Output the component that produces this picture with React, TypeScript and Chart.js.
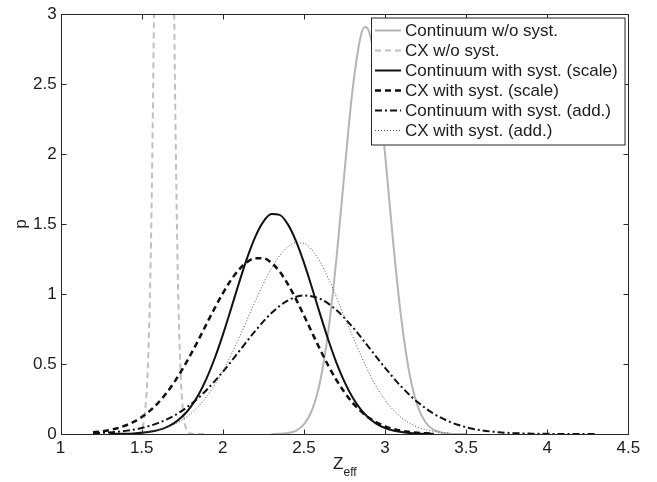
import React, { useEffect, useRef } from 'react';
import { Chart, registerables } from 'chart.js';

Chart.register(...registerables);

// ---- data ----
const seriesLabels = [
  'Continuum w/o syst.',
  'CX w/o syst.',
  'Continuum with syst. (scale)',
  'CX with syst. (scale)',
  'Continuum with syst. (add.)',
  'CX with syst. (add.)',
];

const xTickValues = [1, 1.5, 2, 2.5, 3, 3.5, 4, 4.5];
const yTickValues = [0, 0.5, 1, 1.5, 2, 2.5, 3];

const contNoSystX = [2.30, 2.35, 2.40, 2.45, 2.50, 2.55, 2.60, 2.65, 2.70, 2.75, 2.80, 2.85, 2.875, 2.90, 2.95, 3.00, 3.05, 3.10, 3.15, 3.20, 3.25, 3.30, 3.35, 3.40, 3.45, 3.50];
const contNoSystY = [0.0005, 0.002, 0.007, 0.023, 0.068, 0.170, 0.377, 0.733, 1.250, 1.873, 2.462, 2.843, 2.909, 2.880, 2.561, 2.000, 1.370, 0.824, 0.435, 0.202, 0.082, 0.029, 0.009, 0.0025, 0.0006, 0.0001];

const cxNoSystX = [1.40, 1.44, 1.48, 1.50, 1.52, 1.54, 1.56, 1.58, 1.60, 1.62, 1.64, 1.66, 1.68, 1.70, 1.72, 1.74, 1.76, 1.78, 1.80, 1.84, 1.90];
const cxNoSystY = [0, 0.0001, 0.006, 0.033, 0.151, 0.546, 1.556, 3.49, 6.18, 8.63, 9.49, 8.23, 5.62, 3.03, 1.286, 0.430, 0.113, 0.024, 0.004, 0.0001, 0];

const contScaleX = [1.30, 1.35, 1.40, 1.45, 1.50, 1.55, 1.60, 1.65, 1.70, 1.75, 1.80, 1.85, 1.90, 1.95, 2.00, 2.05, 2.10, 2.15, 2.20, 2.25, 2.30, 2.35, 2.40, 2.45, 2.50, 2.55, 2.60, 2.65, 2.70, 2.75, 2.80, 2.85, 2.90, 2.95, 3.00, 3.05, 3.10, 3.15, 3.20, 3.25, 3.30];
const contScaleY = [0.0005, 0.0010, 0.0021, 0.0043, 0.0083, 0.0154, 0.0275, 0.0473, 0.0783, 0.1246, 0.1908, 0.2807, 0.3976, 0.5412, 0.7087, 0.8924, 1.0806, 1.2584, 1.4092, 1.5179, 1.5721, 1.5660, 1.5000, 1.3819, 1.2244, 1.0432, 0.8549, 0.6737, 0.5105, 0.3720, 0.2607, 0.1757, 0.1139, 0.0710, 0.0426, 0.0245, 0.0136, 0.0073, 0.0037, 0.0018, 0.0009];

const cxScaleX = [1.20, 1.25, 1.30, 1.35, 1.40, 1.45, 1.50, 1.55, 1.60, 1.65, 1.70, 1.75, 1.80, 1.85, 1.90, 1.95, 2.00, 2.05, 2.10, 2.15, 2.20, 2.25, 2.30, 2.35, 2.40, 2.45, 2.50, 2.55, 2.60, 2.65, 2.70, 2.75, 2.80, 2.85, 2.90, 2.95, 3.00, 3.05, 3.10, 3.15, 3.20, 3.25, 3.30];
const cxScaleY = [0.0117, 0.0182, 0.0279, 0.0416, 0.0608, 0.0867, 0.1211, 0.1655, 0.2211, 0.2889, 0.3690, 0.4612, 0.5635, 0.6735, 0.7871, 0.8996, 1.0057, 1.0995, 1.1755, 1.2288, 1.2565, 1.256, 1.223, 1.161, 1.073, 0.966, 0.847, 0.724, 0.603, 0.489, 0.386, 0.298, 0.223, 0.163, 0.116, 0.081, 0.055, 0.036, 0.023, 0.015, 0.009, 0.005, 0.003];

const contAddX = [1.2, 1.3, 1.4, 1.5, 1.6, 1.7, 1.8, 1.9, 2.0, 2.1, 2.2, 2.3, 2.4, 2.5, 2.6, 2.7, 2.8, 2.9, 3.0, 3.1, 3.2, 3.3, 3.4, 3.5, 3.6, 3.7, 3.8, 3.9, 4.0, 4.1, 4.2, 4.3];
const contAddY = [0.0050, 0.0109, 0.0223, 0.0428, 0.0774, 0.1314, 0.2098, 0.3148, 0.4445, 0.5900, 0.7365, 0.8643, 0.9538, 0.9897, 0.9656, 0.8858, 0.7642, 0.6198, 0.4727, 0.3390, 0.2286, 0.1449, 0.0864, 0.0484, 0.0255, 0.0127, 0.0059, 0.0026, 0.0011, 0.0004, 0.0001, 0.0000];

const cxAddX = [1.50, 1.55, 1.60, 1.65, 1.70, 1.75, 1.80, 1.85, 1.90, 1.95, 2.00, 2.05, 2.10, 2.15, 2.20, 2.25, 2.30, 2.35, 2.40, 2.45, 2.50, 2.55, 2.60, 2.65, 2.70, 2.75, 2.80, 2.85, 2.90, 2.95, 3.00, 3.05, 3.10, 3.15, 3.20, 3.25, 3.30, 3.35, 3.40];
const cxAddY = [0.012, 0.019, 0.030, 0.046, 0.069, 0.100, 0.143, 0.198, 0.267, 0.351, 0.450, 0.563, 0.687, 0.818, 0.949, 1.074, 1.184, 1.274, 1.337, 1.367, 1.362, 1.315, 1.230, 1.114, 0.980, 0.835, 0.700, 0.565, 0.440, 0.330, 0.243, 0.172, 0.118, 0.078, 0.050, 0.031, 0.019, 0.011, 0.006];

// ---- styling ----
const FONT_FAMILY = "'Liberation Sans', Arial, Helvetica, sans-serif";
const TEXT_COLOR = '#1c1c1c';
const AXIS_COLOR = '#262626';

const toPoints = (xs: number[], ys: number[]) => xs.map((x, i) => ({ x, y: ys[i] }));

const seriesStyles = [
  { color: '#b5b5b5', width: 2, dash: [] as number[] },
  { color: '#c0c0c0', width: 2, dash: [6, 4] },
  { color: '#111111', width: 2, dash: [] as number[] },
  { color: '#111111', width: 2.5, dash: [6, 4] },
  { color: '#111111', width: 2, dash: [7, 3, 2, 3] },
  { color: '#555555', width: 1, dash: [1, 2] },
];

const seriesData = [
  toPoints(contNoSystX, contNoSystY),
  toPoints(cxNoSystX, cxNoSystY),
  toPoints(contScaleX, contScaleY),
  toPoints(cxScaleX, cxScaleY),
  toPoints(contAddX, contAddY),
  toPoints(cxAddX, cxAddY),
];

const framePlugin = {
  id: 'matlabFrame',
  afterDatasetsDraw(chart: any) {
    const { ctx, chartArea: a, scales } = chart;
    const xs = scales.x;
    const ys = scales.y;
    const L = Math.round(a.left) + 0.5;
    const R = Math.round(a.right) + 0.5;
    const T = Math.round(a.top) + 0.5;
    const B = Math.round(a.bottom) + 0.5;
    ctx.save();
    ctx.setLineDash([]);
    ctx.strokeStyle = AXIS_COLOR;
    ctx.lineWidth = 1;
    ctx.strokeRect(L, T, R - L, B - T);
    const tick = 5;
    ctx.beginPath();
    for (const v of xTickValues) {
      const px = Math.round(xs.getPixelForValue(v)) + 0.5;
      ctx.moveTo(px, B); ctx.lineTo(px, B - tick);
      ctx.moveTo(px, T); ctx.lineTo(px, T + tick);
    }
    for (const v of yTickValues) {
      const py = Math.round(ys.getPixelForValue(v)) + 0.5;
      ctx.moveTo(L, py); ctx.lineTo(L + tick, py);
      ctx.moveTo(R, py); ctx.lineTo(R - tick, py);
    }
    ctx.stroke();
    ctx.restore();
  },
};

const textPlugin = {
  id: 'matlabText',
  afterDraw(chart: any) {
    const { ctx, chartArea: a } = chart;
    ctx.save();
    ctx.fillStyle = TEXT_COLOR;
    // x label Z_eff
    const cx = (a.left + a.right) / 2;
    ctx.textAlign = 'left';
    ctx.textBaseline = 'alphabetic';
    ctx.font = `17px ${FONT_FAMILY}`;
    ctx.fillText('Z', cx - 11.5, a.bottom + 35);
    ctx.font = `12px ${FONT_FAMILY}`;
    ctx.fillText('eff', cx - 1, a.bottom + 42);
    // y label p
    ctx.translate(21, (a.top + a.bottom) / 2);
    ctx.rotate(-Math.PI / 2);
    ctx.textAlign = 'center';
    ctx.textBaseline = 'middle';
    ctx.font = `17px ${FONT_FAMILY}`;
    ctx.fillText('p', 0, 0);
    ctx.restore();

    // legend box
    const x0 = Math.round(a.right) - 256.5;
    const y0 = Math.round(a.top) + 4;
    const w = 253.5;
    const h = 127;
    ctx.save();
    ctx.fillStyle = '#ffffff';
    ctx.fillRect(x0, y0, w, h);
    ctx.setLineDash([]);
    ctx.strokeStyle = AXIS_COLOR;
    ctx.lineWidth = 1;
    ctx.strokeRect(x0, y0, w, h);
    chart.data.datasets.forEach((ds: any, i: number) => {
      const cy = Math.round(y0 + 11.5 + i * 20) + 0.5;
      ctx.beginPath();
      ctx.setLineDash(ds.borderDash || []);
      ctx.strokeStyle = ds.borderColor;
      ctx.lineWidth = ds.borderWidth;
      ctx.moveTo(x0 + 3.5, cy);
      ctx.lineTo(x0 + 29.5, cy);
      ctx.stroke();
      ctx.setLineDash([]);
      ctx.fillStyle = TEXT_COLOR;
      ctx.font = `17px ${FONT_FAMILY}`;
      ctx.textAlign = 'left';
      ctx.textBaseline = 'middle';
      ctx.fillText(ds.label, x0 + 33.5, cy + 1);
    });
    ctx.restore();
  },
};

export default function App() {
  const canvasRef = useRef<HTMLCanvasElement | null>(null);

  useEffect(() => {
    const canvas = canvasRef.current;
    if (!canvas) return;
    const tickFont = { family: FONT_FAMILY, size: 17 };
    const chart = new Chart(canvas, {
      type: 'line',
      data: {
        datasets: seriesLabels.map((label, i) => ({
          label,
          data: seriesData[i],
          borderColor: seriesStyles[i].color,
          borderWidth: seriesStyles[i].width,
          borderDash: seriesStyles[i].dash,
          pointRadius: 0,
          fill: false,
          cubicInterpolationMode: 'monotone' as const,
          order: seriesLabels.length - i,
        })),
      },
      options: {
        animation: false,
        responsive: false,
        devicePixelRatio: 1,
        parsing: true,
        layout: { padding: { left: 0, top: 12.5, right: 28.6, bottom: 0 } },
        plugins: {
          legend: { display: false },
          tooltip: { enabled: false },
          title: { display: false },
        },
        scales: {
          x: {
            type: 'linear',
            min: 1,
            max: 4.5,
            afterBuildTicks: (s: any) => { s.ticks = xTickValues.map((v) => ({ value: v })); },
            ticks: {
              font: tickFont,
              color: TEXT_COLOR,
              padding: 4,
              maxRotation: 0,
              autoSkip: false,
              callback: (v: any) => String(Number(v)),
            },
            grid: { display: false, drawTicks: false },
            border: { display: false },
            afterFit: (s: any) => { s.height = 48; },
          },
          y: {
            type: 'linear',
            min: 0,
            max: 3,
            afterBuildTicks: (s: any) => { s.ticks = yTickValues.map((v) => ({ value: v })); },
            ticks: {
              font: tickFont,
              color: TEXT_COLOR,
              padding: 4,
              autoSkip: false,
              callback: (v: any) => String(Number(v)),
            },
            grid: { display: false, drawTicks: false },
            border: { display: false },
            afterFit: (s: any) => { s.width = 60.6; },
          },
        },
      },
      plugins: [framePlugin, textPlugin],
    } as any);
    return () => chart.destroy();
  }, []);

  return (
    <div style={{ position: 'fixed', left: 0, top: 0, width: 657, height: 482, background: '#fff' }}>
      <canvas ref={canvasRef} width={657} height={482} style={{ display: 'block', width: 657, height: 482 }} />
    </div>
  );
}
